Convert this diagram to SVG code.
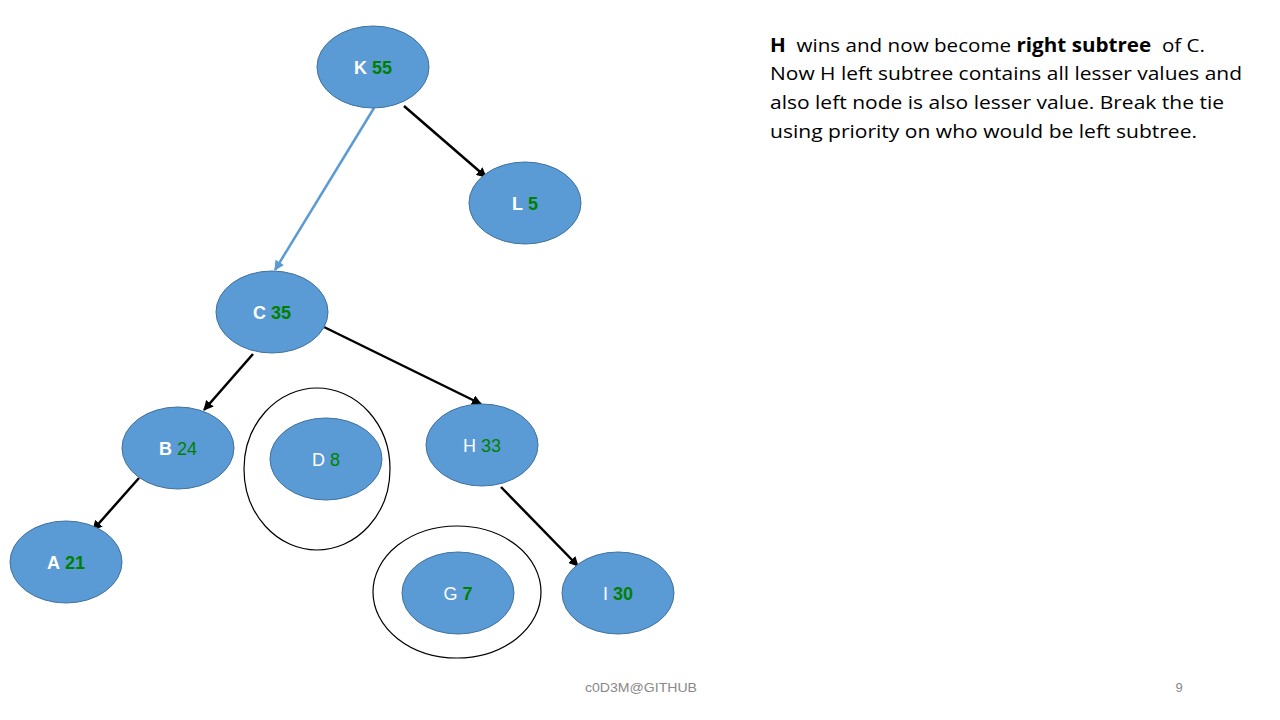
<svg xmlns="http://www.w3.org/2000/svg" width="1280" height="720" viewBox="0 0 1280 720">
<defs>
<style>
.n{fill:#5B9BD5;stroke:#41719C;stroke-width:1}
.ring{fill:none;stroke:#000;stroke-width:1.2}
.lbl{font-family:"Liberation Sans",Arial,sans-serif;font-size:18px;text-anchor:middle}
.w{fill:#fff}
.g{fill:#008000}
.b{font-weight:bold}
.e{stroke:#000;stroke-width:2.5;fill:none}
.eb{stroke:#5B9BD5;stroke-width:2.5;fill:none}
.t{font-family:"Open Sans","Liberation Sans",sans-serif;font-size:19px;fill:#000;white-space:pre}
.f{font-family:"Liberation Sans",Arial,sans-serif;font-size:13px;fill:#898989}
</style>
<marker id="ak" viewBox="0 0 10 10" refX="9" refY="5" markerWidth="4" markerHeight="4" orient="auto" markerUnits="strokeWidth"><path d="M0,0 L10,5 L0,10 z" fill="#000"/></marker>
<marker id="ab" viewBox="0 0 10 10" refX="9" refY="5" markerWidth="4" markerHeight="4" orient="auto" markerUnits="strokeWidth"><path d="M0,0 L10,5 L0,10 z" fill="#5B9BD5"/></marker>
</defs>
<rect width="1280" height="720" fill="#fff"/>
<g id="connectors">
<line class="eb" x1="374" y1="108" x2="275" y2="270" marker-end="url(#ab)"/>
<line class="e" x1="404" y1="106" x2="486" y2="177" marker-end="url(#ak)"/>
<line class="e" x1="253" y1="354" x2="204" y2="410" marker-end="url(#ak)"/>
<line class="e" x1="324" y1="327" x2="481" y2="404" marker-end="url(#ak)"/>
<line class="e" x1="139" y1="478" x2="93" y2="530" marker-end="url(#ak)"/>
<line class="e" x1="501" y1="487" x2="578" y2="566" marker-end="url(#ak)"/>
</g>
<g id="ringD"><ellipse class="ring" cx="317" cy="469" rx="73" ry="81"/></g>
<g id="ringG"><ellipse class="ring" cx="457" cy="592" rx="84" ry="66"/></g>
<g id="K"><ellipse class="n" cx="373" cy="67" rx="56" ry="41"/><text class="lbl" x="373" y="74"><tspan class="w b">K</tspan> <tspan class="g b">55</tspan></text></g>
<g id="L"><ellipse class="n" cx="525" cy="203" rx="56" ry="41"/><text class="lbl" x="525" y="210"><tspan class="w b">L</tspan> <tspan class="g b">5</tspan></text></g>
<g id="C"><ellipse class="n" cx="272" cy="312" rx="56" ry="41"/><text class="lbl" x="272" y="319"><tspan class="w b">C</tspan> <tspan class="g b">35</tspan></text></g>
<g id="B"><ellipse class="n" cx="178" cy="448" rx="56" ry="41"/><text class="lbl" x="178" y="455"><tspan class="w b">B</tspan> <tspan class="g">24</tspan></text></g>
<g id="D"><ellipse class="n" cx="326" cy="459" rx="56" ry="41"/><text class="lbl" x="326" y="466"><tspan class="w">D</tspan> <tspan class="g">8</tspan></text></g>
<g id="H"><ellipse class="n" cx="482" cy="445" rx="56" ry="41"/><text class="lbl" x="482" y="452"><tspan class="w">H</tspan> <tspan class="g">33</tspan></text></g>
<g id="A"><ellipse class="n" cx="66" cy="562" rx="56" ry="41"/><text class="lbl" x="66" y="569"><tspan class="w b">A</tspan> <tspan class="g b">21</tspan></text></g>
<g id="G"><ellipse class="n" cx="458" cy="593" rx="56" ry="41"/><text class="lbl" x="458" y="600"><tspan class="w">G</tspan> <tspan class="g b">7</tspan></text></g>
<g id="I"><ellipse class="n" cx="618" cy="593" rx="56" ry="41"/><text class="lbl" x="618" y="600"><tspan class="w">I</tspan> <tspan class="g b">30</tspan></text></g>
<g id="note">
<text class="t" x="770" y="52" textLength="435" lengthAdjust="spacingAndGlyphs"><tspan font-weight="bold">H</tspan>  wins and now become <tspan font-weight="bold">right subtree</tspan>  of C.</text>
<text class="t" x="770" y="80" textLength="472" lengthAdjust="spacingAndGlyphs">Now H left subtree contains all lesser values and</text>
<text class="t" x="770" y="109" textLength="454" lengthAdjust="spacingAndGlyphs">also left node is also lesser value. Break the tie</text>
<text class="t" x="770" y="138" textLength="427" lengthAdjust="spacingAndGlyphs">using priority on who would be left subtree.</text>
</g>
<g id="footer">
<text class="f" x="641" y="692" text-anchor="middle" textLength="112" lengthAdjust="spacingAndGlyphs">c0D3M@GITHUB</text>
<text class="f" x="1179" y="692" text-anchor="middle">9</text>
</g>
</svg>
